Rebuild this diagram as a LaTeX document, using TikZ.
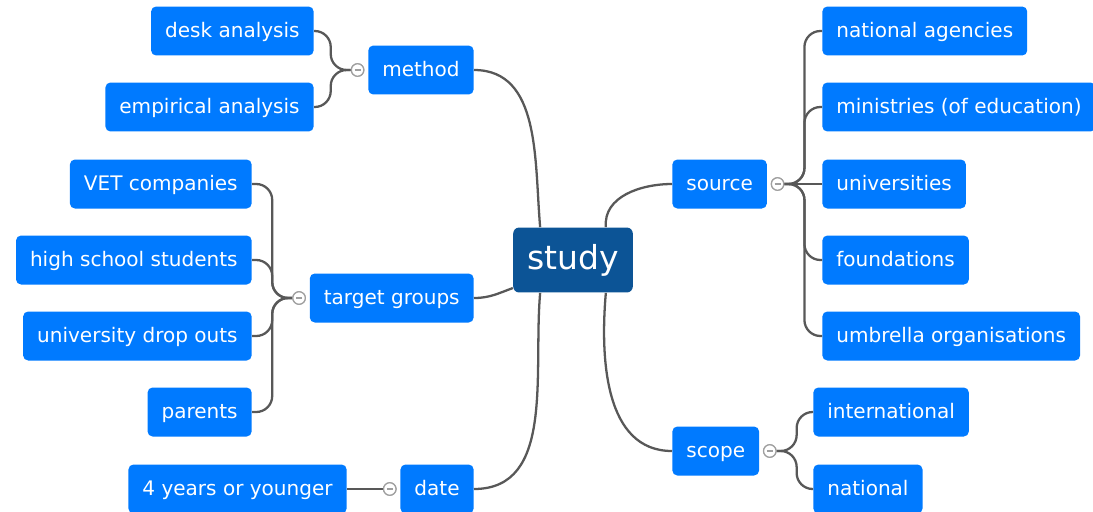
\documentclass[tikz,border=0pt]{standalone}
\usepackage{fontspec}
\setmainfont{DejaVu Sans}
\usetikzlibrary{positioning}
\definecolor{leafblue}{RGB}{0,122,255}
\definecolor{rootblue}{RGB}{12,84,150}
\definecolor{linkgray}{RGB}{88,88,88}
\tikzset{
  topic/.style={rectangle, rounded corners=0.1cm, fill=leafblue, text=white, minimum height=0.98cm, inner xsep=0.28cm, text height=0.8em, text depth=0.05em, font=\fontsize{11.4}{13}\selectfont},
  root/.style={rectangle, rounded corners=0.12cm, fill=rootblue, text=white, minimum height=1.3cm, inner xsep=0.28cm, font=\fontsize{18.8}{20}\selectfont},
  hub/.style={circle, draw=gray!75, fill=white, line width=0.7pt, minimum size=0.25cm, inner sep=0pt,
    path picture={\draw[gray!75, line width=1.2pt] ([xshift=-0.06cm]path picture bounding box.center) -- ([xshift=0.06cm]path picture bounding box.center);}},
  link/.style={draw=linkgray, line width=1.3pt},
  branch/.style={link, rounded corners=0.32cm},
  node distance=0.07cm
}
\begin{document}
\begin{tikzpicture}[x=0.02cm, y=-0.02cm]
\clip (0,0) rectangle (1093,511);

% root
\node[root] (study) at (573,260) {study};

% left side
\node[topic, anchor=east] (method) at (474,70) {method};
\node[topic, anchor=east] (target) at (474,298) {target groups};
\node[topic, anchor=east] (date) at (474,489) {date};
\node[hub, left=of method] (methodhub) {};
\node[hub, left=of target] (targethub) {};
\node[hub, left=of date] (datehub) {};

\node[topic, anchor=east] (desk) at (314,31) {desk analysis};
\node[topic, anchor=east] (empirical) at (314,107) {empirical analysis};
\node[topic, anchor=east] (vet) at (252,184) {VET companies};
\node[topic, anchor=east] (highschool) at (252,260) {high school students};
\node[topic, anchor=east] (dropouts) at (252,336) {university drop outs};
\node[topic, anchor=east] (parents) at (252,412) {parents};
\node[topic, anchor=east] (younger) at (347,489) {4 years or younger};

% right side
\node[topic, anchor=west] (source) at (672,184) {source};
\node[topic, anchor=west] (scope) at (672,451) {scope};
\node[hub, right=of source] (sourcehub) {};
\node[hub, right=of scope] (scopehub) {};

\node[topic, anchor=west] (agencies) at (822,31) {national agencies};
\node[topic, anchor=west] (ministries) at (822,107) {ministries (of education)};
\node[topic, anchor=west] (universities) at (822,184) {universities};
\node[topic, anchor=west] (foundations) at (822,260) {foundations};
\node[topic, anchor=west] (umbrella) at (822,336) {umbrella organisations};
\node[topic, anchor=west] (international) at (813,412) {international};
\node[topic, anchor=west] (national) at (813,489) {national};

% bend points of the branches
\coordinate (methodbend) at ([xshift=-0.4cm]methodhub.west);
\coordinate (targetbend) at ([xshift=-0.4cm]targethub.west);
\coordinate (sourcebend) at ([xshift=0.4cm]sourcehub.east);
\coordinate (scopebend) at ([xshift=0.4cm]scopehub.east);

% root to topics
\draw[link] (method.east) to[out=0,in=95] (study.135);
\draw[link] (target.east) to[out=0,in=200] (study.205);
\draw[link] (date.east) to[out=0,in=-95] (study.225);
\draw[link] (study.45) to[out=95,in=180] (source.west);
\draw[link] (study.-45) to[out=-95,in=180] (scope.west);

% topics to subtopics
\draw[branch] (desk.east) -| (methodbend) -- (methodhub.west);
\draw[branch] (empirical.east) -| (methodbend) -- (methodhub.west);
\draw[branch] (vet.east) -| (targetbend) -- (targethub.west);
\draw[branch] (highschool.east) -| (targetbend) -- (targethub.west);
\draw[branch] (dropouts.east) -| (targetbend) -- (targethub.west);
\draw[branch] (parents.east) -| (targetbend) -- (targethub.west);
\draw[link] (younger.east) -- (datehub.west);
\draw[branch] (agencies.west) -| (sourcebend) -- (sourcehub.east);
\draw[branch] (ministries.west) -| (sourcebend) -- (sourcehub.east);
\draw[link] (universities.west) -- (sourcehub.east);
\draw[branch] (foundations.west) -| (sourcebend) -- (sourcehub.east);
\draw[branch] (umbrella.west) -| (sourcebend) -- (sourcehub.east);
\draw[branch] (international.west) -| (scopebend) -- (scopehub.east);
\draw[branch] (national.west) -| (scopebend) -- (scopehub.east);

% hubs on top of the lines
\node[hub] at (methodhub) {};
\node[hub] at (targethub) {};
\node[hub] at (datehub) {};
\node[hub] at (sourcehub) {};
\node[hub] at (scopehub) {};
\end{tikzpicture}
\end{document}
